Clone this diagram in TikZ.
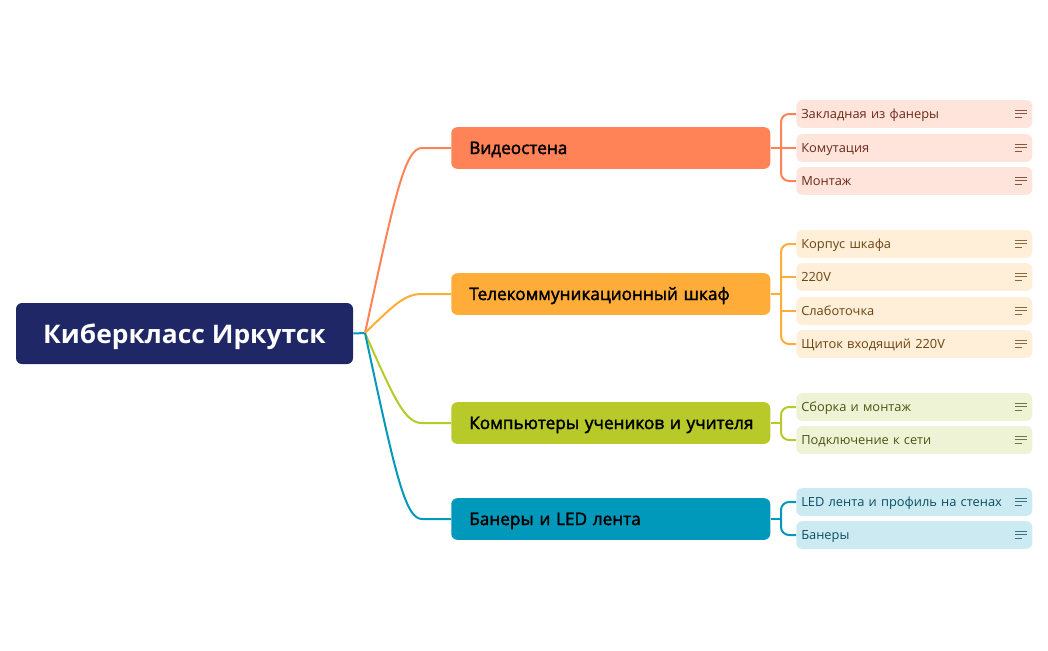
\documentclass[tikz,border=0pt]{standalone}
\usetikzlibrary{calc}
\usepackage{fontspec}
\setmainfont{Open Sans}
\newfontfamily\rootf[FakeStretch=1.03]{Open Sans}
\newfontfamily\branchf[FakeBold=2]{Open Sans}
\newfontfamily\leaff[FakeStretch=1.02]{Open Sans}
\definecolor{rootc}{HTML}{1F2767}
\definecolor{oc}{HTML}{FF8357}\definecolor{ol}{HTML}{FFE4DB}\definecolor{ot}{HTML}{6B2A17}
\definecolor{yc}{HTML}{FFAD38}\definecolor{yl}{HTML}{FFEFD8}\definecolor{yt}{HTML}{6B4310}
\definecolor{gc}{HTML}{B8C92A}\definecolor{gl}{HTML}{EFF3D5}\definecolor{gt}{HTML}{4C5410}
\definecolor{bc}{HTML}{0099BB}\definecolor{bl}{HTML}{CCEAF1}\definecolor{bt}{HTML}{0A4F60}
\tikzset{
 rootbox/.style={fill=rootc,text=white,rounded corners=4.5pt,minimum width=252.75pt,minimum height=45.75pt,inner sep=0pt,text height=16pt,text depth=1pt,font=\rootf\bfseries\fontsize{19.2}{22}\selectfont},
 branchbox/.style={fill=#1,text=black,rounded corners=4.5pt,minimum height=31.2pt,text width=231.25pt,align=left,inner xsep=4pt,inner ysep=0pt,text height=10pt,text depth=1pt,execute at begin node={\hspace*{9.5pt}},font=\branchf\fontsize{12.9}{14}\selectfont},
 leafbox/.style n args={2}{fill=#1,text=#2,rounded corners=4.5pt,minimum height=20.8pt,text width=169.5pt,align=left,inner xsep=3.75pt,inner ysep=0pt,text height=8pt,text depth=0.8pt,font=\leaff\fontsize{9.45}{11}\selectfont},
 wire/.style={draw=#1,line width=1.5pt},
 elbow/.style={draw=#1,line width=1.5pt,rounded corners=6pt},
 iconline/.style={draw=#1!80,line width=0.75pt}
}
\newcommand{\noteicon}[2]{%
 \draw[iconline=#2] ([shift={(-13.5pt,3pt)}]#1.east) -- ([shift={(-4.5pt,3pt)}]#1.east);
 \draw[iconline=#2] ([shift={(-13.5pt,0.2pt)}]#1.east) -- ([shift={(-4.5pt,0.2pt)}]#1.east);
 \draw[iconline=#2] ([shift={(-13.5pt,-2.6pt)}]#1.east) -- ([shift={(-8.25pt,-2.6pt)}]#1.east);
}
\begin{document}
\begin{tikzpicture}[x=0.75pt,y=-0.75pt]
\useasboundingbox (0,0) rectangle (1048,650);
\node[rootbox] (root) at (184.5,333.5) {Киберкласс Иркутск};
\node[branchbox=oc,anchor=west] (b1) at (451,148) {Видеостена};
\node[branchbox=yc,anchor=west] (b2) at (451,294) {Телекоммуникационный шкаф};
\node[branchbox=gc,anchor=west] (b3) at (451,423) {Компьютеры учеников и учителя};
\node[branchbox=bc,anchor=west] (b4) at (451,519) {Банеры и LED лента};
\foreach \n/\y/\c/\t/\s in {
 l11/114/ol/ot/Закладная из фанеры, l12/148/ol/ot/Комутация, l13/181/ol/ot/Монтаж,
 l21/244/yl/yt/Корпус шкафа, l22/277/yl/yt/220V, l23/311/yl/yt/Слаботочка, l24/344/yl/yt/Щиток входящий 220V,
 l31/407/gl/gt/Сборка и монтаж, l32/440/gl/gt/Подключение к сети,
 l41/502/bl/bt/LED лента и профиль на стенах, l42/535/bl/bt/Банеры}
 {\node[leafbox={\c}{\t},anchor=west] (\n) at (796,\y) {\s};}
\coordinate (hub) at (365,333);
\coordinate (h1) at (781,148);
\coordinate (h2) at (781,294);
\coordinate (h3) at (781,423);
\coordinate (h4) at (781,519);
\draw[wire=bc] (root.east) -- (hub);
\foreach \b/\c in {b1/oc,b2/yc,b3/gc,b4/bc}{
 \coordinate (k) at (\b.west -| 405,0);
 \coordinate (e) at (\b.west -| 422,0);
 \draw[wire=\c] (hub) .. controls ($(hub)!0.75!(k)$) and (k) .. (e) -- (\b.west);
}
\draw[wire=oc] (b1.east) -- (l12.west);
\draw[elbow=oc] (l11.west) -| (h1) |- (l13.west);
\draw[wire=yc] (b2.east) -- (h2);
\draw[elbow=yc] (l21.west) -| (h2) |- (l24.west);
\draw[elbow=yc] (h2 |- l22.west) -- (l22.west);
\draw[elbow=yc] (h2 |- l23.west) -- (l23.west);
\draw[wire=gc] (b3.east) -- (h3);
\draw[elbow=gc] (l31.west) -| (h3) |- (l32.west);
\draw[wire=bc] (b4.east) -- (h4);
\draw[elbow=bc] (l41.west) -| (h4) |- (l42.west);
\foreach \n/\c in {l11/ot,l12/ot,l13/ot,l21/yt,l22/yt,l23/yt,l24/yt,l31/gt,l32/gt,l41/bt,l42/bt}
 {\noteicon{\n}{\c}}
\end{tikzpicture}
\end{document}
